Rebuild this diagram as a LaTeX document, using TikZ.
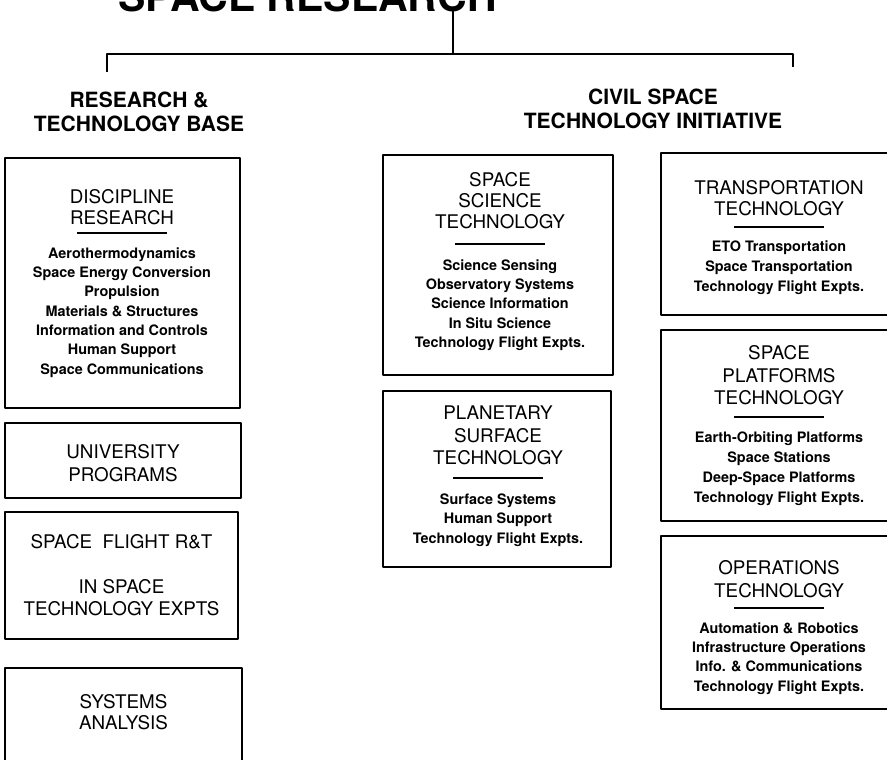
\documentclass[tikz,border=0pt]{standalone}
\usepackage{fontspec}
\setmainfont{TeX Gyre Heros}
\begin{document}
\begin{tikzpicture}[x=1pt,y=-1pt,line join=bevel,
  box/.style={draw,line width=2.4pt,inner sep=0pt},
  head/.style={font=\fontsize{18.8}{21}\selectfont,align=center,inner sep=0pt},
  items/.style={font=\bfseries\fontsize{14.4}{19.3}\selectfont,align=center,inner sep=0pt},
  branch/.style={font=\bfseries\fontsize{21}{24}\selectfont,align=center,inner sep=0pt},
  bar/.style={fill,minimum width=90pt,minimum height=2.4pt,inner sep=0pt},
  tree/.style={line width=2pt}]
\useasboundingbox (0,0) rectangle (887,760);
\clip (0,0) rectangle (887,760);
%%
\node (title) at (118,12) [anchor=base west,inner sep=0pt,font=\bfseries\fontsize{41}{44}\selectfont] {SPACE RESEARCH};
\coordinate (stem) at (453,7);
\coordinate (fork) at (453,54);
\coordinate (ltick) at (107,72);
\coordinate (rtick) at (793,67);
\draw [tree] (stem) -- (fork);
\draw [tree] (ltick) -- (ltick |- fork) -- (rtick |- fork) -- (rtick);
\node (base) at (139,111.5) [branch] {RESEARCH \&\\TECHNOLOGY BASE};
\node (csti) at (653,108.5) [branch] {CIVIL SPACE\\TECHNOLOGY INITIATIVE};
%% left column
\node (disc) at (122.5,283) [box,minimum width=235pt,minimum height=250pt] {};
  \node (disc-t) at (122,207) [head] {DISCIPLINE\\RESEARCH};
  \node (disc-bar) at (122,233) [bar] {};
  \node (disc-i) at (122,312.5) [items] {Aerothermodynamics\\Space Energy Conversion\\Propulsion\\Materials \& Structures\\Information and Controls\\Human Support\\Space Communications};
\node (univ) at (123,460.5) [box,minimum width=236pt,minimum height=75pt] {};
  \node (univ-t) at (123,463.5) [head,font=\fontsize{18.8}{23}\selectfont] {UNIVERSITY\\PROGRAMS};
\node (flight) at (121.5,575.5) [box,minimum width=233pt,minimum height=127pt] {};
  \node (flight-t) at (121.5,542) [head] {SPACE\ \ FLIGHT R\&T};
  \node (flight-x) at (121.5,598) [head,font=\fontsize{18.8}{22}\selectfont] {IN SPACE\\TECHNOLOGY EXPTS};
\node (sys) at (123.5,719) [box,minimum width=237pt,minimum height=102pt] {};
  \node (sys-t) at (123.5,712.5) [head] {SYSTEMS\\ANALYSIS};
%% middle column
\node (sci) at (498,265) [box,minimum width=230pt,minimum height=220pt] {};
  \node (sci-t) at (500,201) [head] {SPACE\\SCIENCE\\TECHNOLOGY};
  \node (sci-bar) at (500,244) [bar] {};
  \node (sci-i) at (500,305) [items] {Science Sensing\\Observatory Systems\\Science Information\\In Situ Science\\Technology Flight Expts.};
\node (plan) at (497,479) [box,minimum width=228pt,minimum height=176pt] {};
  \node (plan-t) at (498,435.5) [head,font=\fontsize{18.8}{22.5}\selectfont] {PLANETARY\\SURFACE\\TECHNOLOGY};
  \node (plan-bar) at (498,478) [bar] {};
  \node (plan-i) at (498,520) [items] {Surface Systems\\Human Support\\Technology Flight Expts.};
%% right column
\node (trans) at (779,234) [box,minimum width=236pt,minimum height=162pt] {};
  \node (trans-t) at (779,198.5) [head] {TRANSPORTATION\\TECHNOLOGY};
  \node (trans-bar) at (779,227) [bar] {};
  \node (trans-i) at (779,267.5) [items,font=\bfseries\fontsize{14.4}{20}\selectfont] {ETO Transportation\\Space Transportation\\Technology Flight Expts.};
\node (plat) at (779,425.5) [box,minimum width=236pt,minimum height=191pt] {};
  \node (plat-t) at (779,375.5) [head,font=\fontsize{18.8}{22.5}\selectfont] {SPACE\\PLATFORMS\\TECHNOLOGY};
  \node (plat-bar) at (779,417) [bar] {};
  \node (plat-i) at (779,468.5) [items,font=\bfseries\fontsize{14.4}{20}\selectfont] {Earth-Orbiting Platforms\\Space Stations\\Deep-Space Platforms\\Technology Flight Expts.};
\node (ops) at (779,622.5) [box,minimum width=236pt,minimum height=173pt] {};
  \node (ops-t) at (779,579.5) [head,font=\fontsize{18.8}{23}\selectfont] {OPERATIONS\\TECHNOLOGY};
  \node (ops-bar) at (779,608) [bar] {};
  \node (ops-i) at (779,658.5) [items] {Automation \& Robotics\\Infrastructure Operations\\Info. \& Communications\\Technology Flight Expts.};
%
\end{tikzpicture}
\end{document}
